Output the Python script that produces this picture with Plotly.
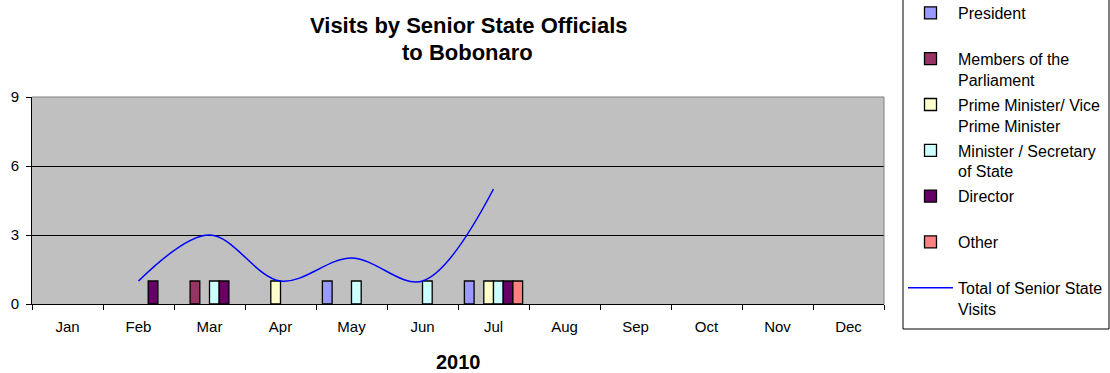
import plotly.graph_objects as go

months = ['Jan', 'Feb', 'Mar', 'Apr', 'May', 'Jun', 'Jul', 'Aug', 'Sep', 'Oct', 'Nov', 'Dec']

president = [None, None, None, None, 1, None, 1, None, None, None, None, None]
parliament = [None, None, 1, None, None, None, None, None, None, None, None, None]
prime_minister = [None, None, None, 1, None, None, 1, None, None, None, None, None]
minister = [None, None, 1, None, 1, 1, 1, None, None, None, None, None]
director = [None, 1, 1, None, None, None, 1, None, None, None, None, None]
other = [None, None, None, None, None, None, 1, None, None, None, None, None]

total_months = ['Feb', 'Mar', 'Apr', 'May', 'Jun', 'Jul']
total_visits = [1, 3, 1, 2, 1, 5]

y_ticks = [0, 3, 6, 9]

font = 'Liberation Sans, Arial, sans-serif'

series = [
    ('President<br> ', president, '#9999FF'),
    ('Members of the<br>Parliament', parliament, '#993366'),
    ('Prime Minister/ Vice<br>Prime Minister', prime_minister, '#FFFFCC'),
    ('Minister / Secretary<br>of State', minister, '#CCFFFF'),
    ('Director<br> ', director, '#660066'),
    ('Other<br> ', other, '#FF8080'),
]

fig = go.Figure()
for i, (name, vals, color) in enumerate(series):
    fig.add_trace(go.Bar(
        x=months, y=vals, name=name, legendgroup=f'g{i}',
        marker=dict(color=color, line=dict(color='black', width=1.3)),
    ))

fig.add_trace(go.Scatter(
    x=total_months, y=total_visits, name='Total of Senior State<br>Visits',
    legendgroup='g6', mode='lines', line=dict(color='#0000FF', width=1.5, shape='spline'),
))

W, H = 1110, 373
L, R, T, B = 32, 226, 97, 69
pw = W - L - R
ph = H - T - B


def px_x(x):
    return (x - L) / pw


def px_y(y):
    return 1 - (y - T) / ph


fig.update_layout(
    width=W, height=H,
    margin=dict(l=L, r=R, t=T, b=B, pad=0, autoexpand=False),
    paper_bgcolor='white', plot_bgcolor='#C0C0C0',
    barmode='group', bargap=0.18, bargroupgap=0,
    font=dict(family=font, size=15, color='black'),
    showlegend=True,
    legend=dict(
        x=px_x(903), xanchor='left',
        y=px_y(-4), yanchor='top',
        borderwidth=0, bgcolor='rgba(0,0,0,0)',
        font=dict(family=font, size=16),
        valign='top', tracegroupgap=1.2, itemwidth=45,
        maxheight=500,
    ),
    xaxis=dict(
        type='category', categoryorder='array', categoryarray=months,
        range=[-0.5, 11.5],
        tickson='boundaries', ticks='outside', ticklen=5, tickcolor='black',
        showline=True, linecolor='black', linewidth=1,
        showgrid=False, tickfont=dict(size=15), ticklabelstandoff=9,
    ),
    yaxis=dict(
        range=[0, 9], tickvals=y_ticks, ticks='outside', ticklen=5,
        tickcolor='black', showline=True, linecolor='black', linewidth=1,
        showgrid=True, gridcolor='black', gridwidth=1, zeroline=False,
        tickfont=dict(size=15), ticklabelstandoff=4,
    ),
    annotations=[
        dict(text='<b>Visits by Senior State Officials</b>', xref='paper', yref='paper',
             x=px_x(469), y=px_y(25), xanchor='center', yanchor='middle',
             showarrow=False, font=dict(size=22)),
        dict(text='<b>to Bobonaro</b>', xref='paper', yref='paper',
             x=px_x(467), y=px_y(53), xanchor='center', yanchor='middle',
             showarrow=False, font=dict(size=22)),
        dict(text='<b>2010</b>', xref='paper', yref='paper',
             x=px_x(458), y=px_y(362), xanchor='center', yanchor='middle',
             showarrow=False, font=dict(size=20)),
    ],
    shapes=[
        dict(type='line', xref='paper', yref='paper', x0=0, x1=1, y0=1, y1=1,
             line=dict(color='#808080', width=1)),
        dict(type='line', xref='paper', yref='paper', x0=1, x1=1, y0=0, y1=1,
             line=dict(color='#808080', width=1)),
        # legend frame
        dict(type='rect', xref='paper', yref='paper',
             x0=px_x(903), x1=px_x(1109), y0=px_y(329), y1=px_y(-5),
             line=dict(color='black', width=1), layer='below'),
    ],
)

# drop the default 8px body margin so the figure fills the window exactly
fig.write_html('out.html', config={'displayModeBar': False},
               post_script="document.body.style.margin='0px';")
